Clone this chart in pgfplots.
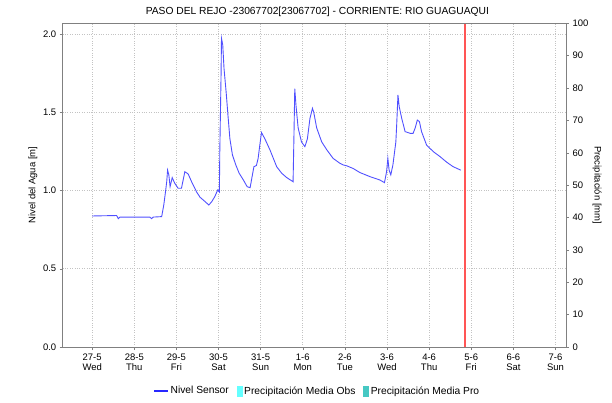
\documentclass[border=0pt]{standalone}
\usepackage{fontspec}
\setmainfont{Liberation Sans}
\usepackage{pgfplots}
\pgfplotsset{compat=1.18}
\definecolor{lvl}{RGB}{80,80,255}
\definecolor{lvlleg}{RGB}{40,40,255}
\definecolor{gridc}{RGB}{195,195,195}
\definecolor{axc}{RGB}{128,128,128}
\definecolor{obs}{RGB}{100,255,255}
\definecolor{pro}{RGB}{70,200,195}
\definecolor{vred}{RGB}{255,85,85}
\begin{document}
\begin{tikzpicture}
\useasboundingbox (0,0) rectangle (612bp,403bp);
\begin{axis}[
  at={(62.7bp,56bp)}, anchor=south west,
  scale only axis, width=503.3bp, height=323.7bp,
  xmin=-0.70, xmax=11.25, ymin=0, ymax=2.068,
  axis y line*=left, axis x line*=bottom,
  axis line style={axc, line width=0.8pt},
  every tick/.style={axc},
  tick align=outside, major tick length=3bp,
  xtick={0,...,11},
  xticklabels={{27-5\\Wed},{28-5\\Thu},{29-5\\Fri},{30-5\\Sat},{31-5\\Sun},{1-6\\Mon},{2-6\\Tue},{3-6\\Wed},{4-6\\Thu},{5-6\\Fri},{6-6\\Sat},{7-6\\Sun}},
  xticklabel style={align=center, font=\fontsize{9.5}{10.5}\selectfont},
  ytick={0,0.5,1,1.5,2},
  yticklabel style={font=\fontsize{9.5}{10.5}\selectfont},
  /pgf/number format/assume math mode=true,
  /pgf/number format/fixed, /pgf/number format/fixed zerofill, /pgf/number format/precision=1,
  grid=major, major grid style={gridc, dotted, line width=0.6pt},
  ylabel={Nivel del Agua [m]},
  ylabel style={at={(axis description cs:-0.059,0.5)}, anchor=center, font=\fontsize{9.5}{10.5}\selectfont},
  legend style={at={(axis description cs:0.506,-0.136)}, anchor=center, draw=none, fill=none,
    legend columns=3, font=\fontsize{10.3}{11}\selectfont,
    /tikz/every even column/.append style={column sep=6bp}},
  legend cell align=left,
  clip=false,
]
\addplot[color=lvl, line width=0.9pt, legend image code/.code={\draw[draw=lvlleg, line width=1.1pt] (0bp,0bp) -- (14bp,0bp);}] coordinates {
(0,0.837) (0.58,0.84) (0.62,0.82) (0.66,0.83) (1.37,0.83) (1.41,0.82) (1.45,0.83) (1.65,0.833)
(1.70,0.907) (1.74,0.99) (1.77,1.056) (1.79,1.13) (1.82,1.10) (1.85,1.024) (1.90,1.082) (1.96,1.046)
(2.04,1.014) (2.12,1.014) (2.16,1.067) (2.20,1.12) (2.28,1.105) (2.36,1.056) (2.48,0.99) (2.56,0.957)
(2.68,0.929) (2.77,0.907) (2.84,0.929) (2.91,0.96) (2.98,1.003) (3.02,0.99) (3.03,1.248) (3.06,1.738)
(3.07,1.972) (3.10,1.93) (3.13,1.78) (3.18,1.63) (3.23,1.46) (3.27,1.33) (3.33,1.227) (3.41,1.163)
(3.49,1.11) (3.59,1.067) (3.68,1.024) (3.75,1.018) (3.79,1.078) (3.84,1.152) (3.90,1.16) (3.94,1.205)
(3.98,1.29) (4.02,1.37) (4.10,1.33) (4.22,1.26) (4.38,1.152) (4.50,1.11) (4.62,1.082) (4.77,1.056)
(4.79,1.34) (4.81,1.65) (4.84,1.54) (4.89,1.40) (4.97,1.31) (5.05,1.28) (5.11,1.33) (5.17,1.46)
(5.23,1.525) (5.26,1.50) (5.33,1.40) (5.45,1.31) (5.57,1.26) (5.72,1.205) (5.88,1.174) (5.96,1.163)
(6.04,1.158) (6.20,1.14) (6.36,1.114) (6.60,1.088) (6.83,1.067) (6.94,1.05) (6.99,1.12) (7.02,1.205)
(7.05,1.13) (7.09,1.10) (7.14,1.163) (7.21,1.31) (7.23,1.42) (7.26,1.61) (7.29,1.535) (7.35,1.46)
(7.43,1.376) (7.55,1.365) (7.62,1.365) (7.67,1.40) (7.72,1.45) (7.77,1.44) (7.82,1.376) (7.94,1.29)
(8.10,1.248) (8.26,1.216) (8.42,1.18) (8.57,1.152) (8.75,1.13)
};
\addlegendentry{Nivel Sensor}
\addlegendimage{legend image code/.code={\fill[obs] (0bp,-5bp) rectangle (5bp,5bp);}}
\addlegendentry{Precipitación Media Obs}
\addlegendimage{legend image code/.code={\fill[pro] (0bp,-5bp) rectangle (5bp,5bp);}}
\addlegendentry{Precipitación Media Pro}
\draw[color=vred, line width=1.15pt] (axis cs:8.853,0) -- (axis cs:8.853,2.068);
\node[font=\fontsize{10.3}{11}\selectfont] at (axis description cs:0.506,1.035) {PASO DEL REJO -23067702[23067702] - CORRIENTE: RIO GUAGUAQUI};
\end{axis}
\begin{axis}[
  at={(62.7bp,56bp)}, anchor=south west,
  scale only axis, width=503.3bp, height=323.7bp,
  xmin=-0.70, xmax=11.25, ymin=0, ymax=100,
  axis y line*=right, axis x line=none,
  axis line style={axc, line width=0.8pt},
  every tick/.style={axc},
  tick align=outside, major tick length=3bp,
  ytick={0,10,...,100},
  yticklabel style={font=\fontsize{9.5}{10.5}\selectfont},
  /pgf/number format/assume math mode=true,
  ylabel={Precipitación [mm]},
  ylabel style={at={(axis description cs:1.0616,0.5)}, anchor=center, rotate=180, font=\fontsize{9.5}{10.5}\selectfont},
]
\end{axis}
\draw[axc, line width=0.8pt] (62.7bp,379.7bp) -- (566bp,379.7bp);
\end{tikzpicture}
\end{document}
